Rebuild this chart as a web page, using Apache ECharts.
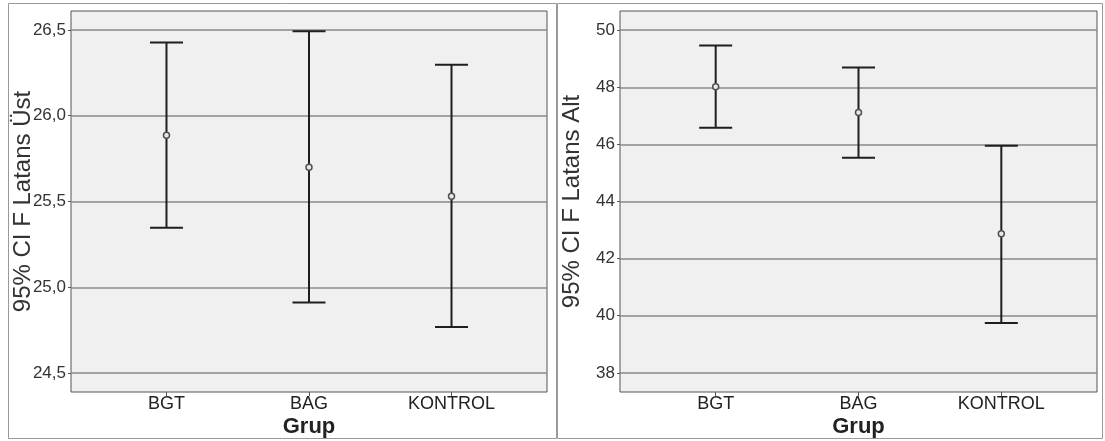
<!DOCTYPE html>
<html>
<head>
<meta charset="utf-8">
<script src="https://cdn.jsdelivr.net/npm/echarts@6/dist/echarts.min.js"></script>
<style>
  html, body { margin: 0; padding: 0; background: #fff; }
  #vis { width: 1105px; height: 441px; }
</style>
</head>
<body>
<div id="vis"></div>
<script>
// groups on the x axis (positions 1, 2, 3)
const groups = ['BGT', 'BAG', 'KONTROL'];
const groupPos = [1, 2, 3];

// left panel: 95% CI F Latans Üst
const ustMean = [25.886, 25.70, 25.53];
const ustLow = [25.347, 24.911, 24.769];
const ustHigh = [26.426, 26.492, 26.297];
const ustTicks = [24.5, 25.0, 25.5, 26.0, 26.5];

// right panel: 95% CI F Latans Alt
const altMean = [48.02, 47.12, 42.87];
const altLow = [46.58, 45.53, 39.75];
const altHigh = [49.46, 48.69, 45.95];
const altTicks = [38, 40, 42, 44, 46, 48, 50];

const fontFamily = 'Arial, "Liberation Sans", sans-serif';

function comma(v, digits) {
  return v.toFixed(digits).replace('.', ',');
}

function xAxisFor(gridIndex) {
  return {
    type: 'value',
    gridIndex,
    min: 0.33,
    max: 3.67,
    name: 'Grup',
    nameLocation: 'middle',
    nameGap: 24,
    nameMoveOverlap: false,
    nameTextStyle: { fontFamily, fontSize: 22, fontWeight: 'bold', color: '#222' },
    axisLine: { show: false },
    axisTick: { show: true, length: 4, customValues: groupPos, lineStyle: { color: '#555' } },
    axisLabel: {
      customValues: groupPos,
      margin: 3,
      fontFamily, fontSize: 18, color: '#222',
      formatter: v => groups[Math.round(v) - 1] || ''
    },
    splitLine: { show: false }
  };
}

function yAxisFor(gridIndex, min, max, ticks, name, digits) {
  return {
    type: 'value',
    gridIndex,
    min, max,
    name,
    nameLocation: 'middle',
    nameGap: 36,
    nameMoveOverlap: false,
    nameTextStyle: { fontFamily, fontSize: 24, color: '#333' },
    axisLine: { show: false },
    axisTick: { show: true, length: 3, customValues: ticks, lineStyle: { color: '#555' } },
    axisLabel: {
      customValues: ticks,
      margin: 5,
      fontFamily, fontSize: 17, color: '#333',
      formatter: v => comma(v, digits)
    },
    splitLine: { show: false }
  };
}

function gridLines(ticks, xi, yi) {
  return {
    type: 'line',
    xAxisIndex: xi, yAxisIndex: yi,
    data: [],
    silent: true,
    z: 1,
    markLine: {
      symbol: 'none',
      silent: true,
      label: { show: false },
      lineStyle: { color: '#8a8a8a', width: 1.5, type: 'solid' },
      data: ticks.map(t => ({ yAxis: t }))
    }
  };
}

function errorBars(low, high, xi, yi) {
  return {
    type: 'custom',
    xAxisIndex: xi, yAxisIndex: yi,
    z: 5,
    data: groupPos.map((p, i) => [p, low[i], high[i]]),
    renderItem: (params, api) => {
      const top = api.coord([api.value(0), api.value(2)]);
      const bot = api.coord([api.value(0), api.value(1)]);
      const half = 16.5;
      const style = { stroke: '#1e1e1e', lineWidth: 2 };
      return {
        type: 'group',
        children: [
          { type: 'line', shape: { x1: top[0], y1: top[1], x2: bot[0], y2: bot[1] }, style },
          { type: 'line', shape: { x1: top[0] - half, y1: top[1], x2: top[0] + half, y2: top[1] }, style },
          { type: 'line', shape: { x1: bot[0] - half, y1: bot[1], x2: bot[0] + half, y2: bot[1] }, style }
        ]
      };
    }
  };
}

function means(vals, xi, yi) {
  return {
    type: 'scatter',
    xAxisIndex: xi, yAxisIndex: yi,
    z: 6,
    symbol: 'circle',
    symbolSize: 6,
    itemStyle: { color: '#e8e8e8', borderColor: '#505050', borderWidth: 1.5, opacity: 1 },
    data: groupPos.map((p, i) => [p, vals[i]])
  };
}

const chart = echarts.init(document.getElementById('vis'), null, { renderer: 'canvas' });

const gridBase = {
  top: 11, height: 381, show: true,
  backgroundColor: '#f0f0f0', borderColor: '#555', borderWidth: 1,
  containLabel: false, outerBoundsMode: 'none'
};

chart.setOption({
  animation: false,
  backgroundColor: '#fff',
  graphic: [
    { type: 'rect', shape: { x: 8.5, y: 3.5, width: 548, height: 435 }, style: { fill: 'none', stroke: '#999', lineWidth: 1 }, z: 0 },
    { type: 'rect', shape: { x: 557.5, y: 3.5, width: 545, height: 435 }, style: { fill: 'none', stroke: '#999', lineWidth: 1 }, z: 0 }
  ],
  grid: [
    Object.assign({ left: 71, width: 476 }, gridBase),
    Object.assign({ left: 620, width: 477 }, gridBase)
  ],
  xAxis: [xAxisFor(0), xAxisFor(1)],
  yAxis: [
    yAxisFor(0, 24.39, 26.61, ustTicks, '95% CI F Latans Üst', 1),
    yAxisFor(1, 37.33, 50.67, altTicks, '95% CI F Latans Alt', 0)
  ],
  series: [
    gridLines(ustTicks, 0, 0),
    errorBars(ustLow, ustHigh, 0, 0),
    means(ustMean, 0, 0),
    gridLines(altTicks, 1, 1),
    errorBars(altLow, altHigh, 1, 1),
    means(altMean, 1, 1)
  ]
});
</script>
</body>
</html>
